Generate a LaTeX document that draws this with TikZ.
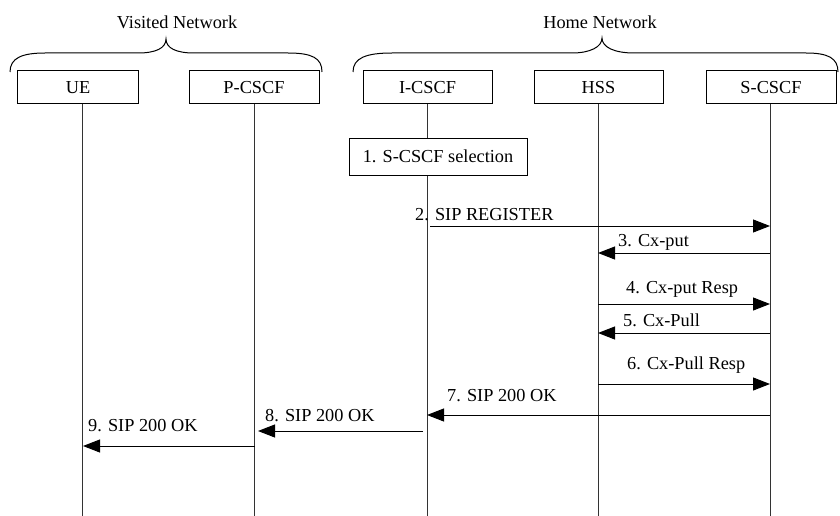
\documentclass[tikz,border=0pt]{standalone}
\usepackage{fontspec}
\setmainfont{Liberation Serif}
\usetikzlibrary{arrows.meta}
\begin{document}
\begin{tikzpicture}[x=1pt,y=-1pt,
  every node/.style={font=\fontsize{18.3}{22}\selectfont},
  entity/.style={draw,line width=1pt,minimum height=33pt,inner sep=0pt},
  lifeline/.style={line width=1pt,draw=black!80},
  msg/.style={line width=1pt,-{Triangle[length=17pt,width=13pt]}},
  lbl/.style={anchor=base west,inner sep=0pt},
  brace/.style={line width=1pt},
  stepbox/.style={draw,line width=1pt,minimum width=178pt,minimum height=37pt,inner sep=0pt}]
\useasboundingbox (0,0) rectangle (840,516);

% network groupings
\draw[brace] (10,72) .. controls (10,58) and (22,53) .. (45,53) -- (138,53)
  .. controls (156,53) and (166,48) .. (166,39)
  .. controls (166,48) and (176,53) .. (194,53) -- (288,53)
  .. controls (312,53) and (322,58) .. (322,72);
\node (vn) at (177,22) {Visited Network};
\draw[brace] (353,72) .. controls (353,58) and (366,53) .. (392,53) -- (572,53)
  .. controls (590,53) and (602,47) .. (602,38)
  .. controls (602,47) and (614,53) .. (634,53) -- (806,53)
  .. controls (828,53) and (838,58) .. (838,72);
\node (hn) at (600,22) {Home Network};

% entities
\node[entity,minimum width=121pt] (ue) at (78,87.5) {UE};
\node[entity,minimum width=130pt] (pcscf) at (254,87.5) {P-CSCF};
\node[entity,minimum width=129pt] (icscf) at (427.5,87.5) {I-CSCF};
\node[entity,minimum width=129pt] (hss) at (598.5,87.5) {HSS};
\node[entity,minimum width=130pt] (scscf) at (771,87.5) {S-CSCF};

% lifelines
\coordinate (ueL) at (82,516);
\coordinate (pL) at (254.5,516);
\coordinate (iL) at (427,516);
\coordinate (hL) at (598,516);
\coordinate (sL) at (770,516);
\draw[lifeline] (ue.south -| ueL) -- (ueL);
\draw[lifeline] (pcscf.south -| pL) -- (pL);
\draw[lifeline] (icscf.south -| iL) -- (iL);
\draw[lifeline] (hss.south -| hL) -- (hL);
\draw[lifeline] (scscf.south -| sL) -- (sL);

% step 1
\node[stepbox,fill=white] (sel) at (438,156.5) {1. S-CSCF selection};

% message end points
\coordinate (m2a) at (430,226);   \coordinate (m2b) at (770,226);
\coordinate (m3a) at (770,253);   \coordinate (m3b) at (598,253);
\coordinate (m4a) at (598,304);   \coordinate (m4b) at (770,304);
\coordinate (m5a) at (770,333);   \coordinate (m5b) at (598,333);
\coordinate (m6a) at (598,384);   \coordinate (m6b) at (770,384);
\coordinate (m7a) at (770,415);   \coordinate (m7b) at (427,415);
\coordinate (m8a) at (423,431);   \coordinate (m8b) at (258,431);
\coordinate (m9a) at (254.5,446); \coordinate (m9b) at (83,446);

\draw[msg] (m2a) -- (m2b);
\draw[msg] (m3a) -- (m3b);
\draw[msg] (m4a) -- (m4b);
\draw[msg] (m5a) -- (m5b);
\draw[msg] (m6a) -- (m6b);
\draw[msg] (m7a) -- (m7b);
\draw[msg] (m8a) -- (m8b);
\draw[msg] (m9a) -- (m9b);

% message labels
\node[lbl] (l2) at (415,220) {2. SIP REGISTER};
\node[lbl] (l3) at (618,246.5) {3. Cx-put};
\node[lbl] (l4) at (626,293) {4. Cx-put Resp};
\node[lbl] (l5) at (623,326) {5. Cx-Pull};
\node[lbl] (l6) at (627,369) {6. Cx-Pull Resp};
\node[lbl] (l7) at (447,401) {7. SIP 200 OK};
\node[lbl] (l8) at (265,421) {8. SIP 200 OK};
\node[lbl] (l9) at (88,431) {9. SIP 200 OK};
\end{tikzpicture}
\end{document}
